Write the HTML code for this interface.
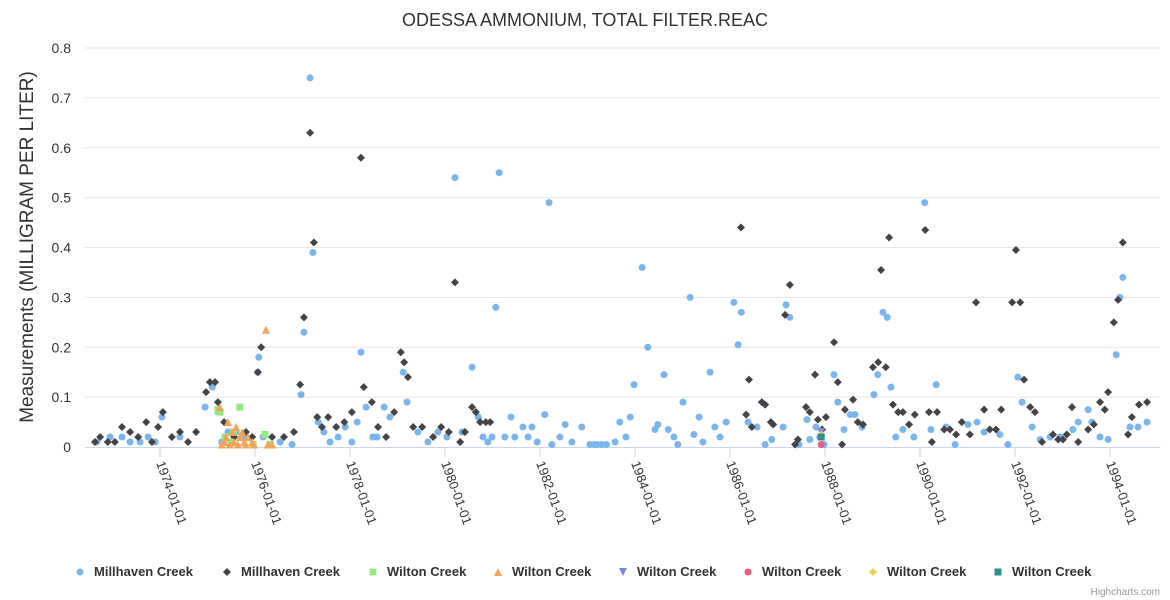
<!DOCTYPE html>
<html><head><meta charset="utf-8"><style>
body{margin:0;background:#fff;font-family:"Liberation Sans",Arial,sans-serif}
svg{display:block}
</style></head><body>
<svg id="c" width="1170" height="600" xmlns="http://www.w3.org/2000/svg"></svg>
<script>
const yTicks=[0,0.1,0.2,0.3,0.4,0.5,0.6,0.7,0.8];
const yTickLabels=["0","0.1","0.2","0.3","0.4","0.5","0.6","0.7","0.8"];
const xTicks=[1974,1976,1978,1980,1982,1984,1986,1988,1990,1992,1994];
const xTickLabels=["1974-01-01","1976-01-01","1978-01-01","1980-01-01","1982-01-01","1984-01-01","1986-01-01","1988-01-01","1990-01-01","1992-01-01","1994-01-01"];
const millBlueX=[1972.67,1972.95,1973.2,1973.37,1973.58,1973.75,1973.9,1974.04,1974.42,1974.95,1975.1,1975.22,1975.3,1975.43,1975.6,1975.79,1976.06,1976.08,1976.17,1976.32,1976.53,1976.78,1976.97,1977.03,1977.16,1977.22,1977.33,1977.45,1977.58,1977.75,1977.9,1978.04,1978.15,1978.23,1978.34,1978.48,1978.57,1978.72,1978.84,1979.12,1979.2,1979.43,1979.64,1979.85,1980.04,1980.21,1980.36,1980.57,1980.7,1980.8,1980.9,1980.99,1981.07,1981.14,1981.26,1981.39,1981.47,1981.64,1981.75,1981.83,1981.94,1982.1,1982.19,1982.25,1982.42,1982.53,1982.67,1982.88,1983.05,1983.14,1983.2,1983.3,1983.4,1983.58,1983.68,1983.81,1983.9,1983.98,1984.15,1984.27,1984.42,1984.48,1984.61,1984.7,1984.82,1984.9,1985.01,1985.16,1985.24,1985.35,1985.43,1985.58,1985.68,1985.79,1985.92,1986.08,1986.17,1986.24,1986.38,1986.57,1986.74,1986.88,1987.12,1987.18,1987.26,1987.45,1987.62,1987.68,1987.81,1987.89,1987.98,1988.19,1988.27,1988.4,1988.53,1988.63,1988.78,1989.03,1989.11,1989.22,1989.31,1989.39,1989.49,1989.64,1989.87,1990.1,1990.23,1990.34,1990.55,1990.74,1991.01,1991.2,1991.35,1991.68,1991.85,1992.06,1992.15,1992.36,1992.53,1992.74,1992.95,1993.22,1993.33,1993.54,1993.62,1993.79,1993.96,1994.13,1994.21,1994.27,1994.42,1994.59,1994.78];
const millBlueY=[0.01,0.02,0.02,0.01,0.01,0.02,0.01,0.06,0.02,0.08,0.12,0.07,0.01,0.03,0.03,0.02,0.15,0.18,0.02,0.005,0.01,0.005,0.105,0.23,0.74,0.39,0.05,0.03,0.01,0.02,0.04,0.01,0.05,0.19,0.08,0.02,0.02,0.08,0.06,0.15,0.09,0.03,0.01,0.03,0.02,0.54,0.03,0.16,0.06,0.02,0.01,0.02,0.28,0.55,0.02,0.06,0.02,0.04,0.02,0.04,0.01,0.065,0.49,0.005,0.02,0.045,0.01,0.04,0.005,0.005,0.005,0.005,0.005,0.01,0.05,0.02,0.06,0.125,0.36,0.2,0.035,0.045,0.145,0.035,0.02,0.005,0.09,0.3,0.025,0.06,0.01,0.15,0.04,0.02,0.05,0.29,0.205,0.27,0.05,0.04,0.005,0.015,0.04,0.285,0.26,0.005,0.055,0.015,0.04,0.02,0.005,0.145,0.09,0.035,0.065,0.065,0.04,0.105,0.145,0.27,0.26,0.12,0.02,0.035,0.02,0.49,0.035,0.125,0.04,0.005,0.045,0.05,0.03,0.025,0.005,0.14,0.09,0.04,0.015,0.02,0.02,0.035,0.05,0.075,0.05,0.02,0.015,0.185,0.3,0.34,0.04,0.04,0.05];
const millDarkX=[1972.63,1972.74,1972.9,1973.05,1973.2,1973.37,1973.54,1973.71,1973.83,1973.96,1974.06,1974.25,1974.42,1974.59,1974.76,1974.97,1975.05,1975.16,1975.22,1975.35,1975.56,1975.81,1975.94,1976.06,1976.13,1976.36,1976.61,1976.82,1976.95,1977.03,1977.16,1977.24,1977.31,1977.41,1977.54,1977.71,1977.88,1978.04,1978.23,1978.29,1978.46,1978.59,1978.76,1978.93,1979.07,1979.14,1979.22,1979.33,1979.52,1979.75,1979.92,1980.08,1980.21,1980.32,1980.42,1980.57,1980.65,1980.74,1980.86,1980.95,1986.23,1986.34,1986.4,1986.46,1986.67,1986.74,1986.86,1986.91,1987.16,1987.26,1987.37,1987.43,1987.6,1987.68,1987.79,1987.85,1987.94,1988.02,1988.19,1988.27,1988.36,1988.42,1988.59,1988.69,1988.8,1989.01,1989.12,1989.18,1989.28,1989.35,1989.43,1989.54,1989.64,1989.77,1989.89,1990.11,1990.19,1990.25,1990.36,1990.51,1990.63,1990.76,1990.88,1991.05,1991.18,1991.35,1991.47,1991.6,1991.71,1991.94,1992.02,1992.11,1992.19,1992.32,1992.42,1992.57,1992.8,1992.91,1993.01,1993.09,1993.2,1993.33,1993.54,1993.66,1993.79,1993.89,1993.96,1994.08,1994.17,1994.27,1994.38,1994.46,1994.61,1994.78];
const millDarkY=[0.01,0.02,0.01,0.01,0.04,0.03,0.02,0.05,0.01,0.04,0.07,0.02,0.03,0.01,0.03,0.11,0.13,0.13,0.09,0.05,0.02,0.03,0.02,0.15,0.2,0.02,0.02,0.03,0.125,0.26,0.63,0.41,0.06,0.04,0.06,0.04,0.05,0.07,0.58,0.12,0.09,0.04,0.02,0.07,0.19,0.17,0.14,0.04,0.04,0.02,0.04,0.03,0.33,0.01,0.03,0.08,0.07,0.05,0.05,0.05,0.44,0.065,0.135,0.04,0.09,0.085,0.05,0.045,0.265,0.325,0.005,0.015,0.08,0.07,0.145,0.055,0.035,0.06,0.21,0.13,0.005,0.075,0.095,0.05,0.045,0.16,0.17,0.355,0.16,0.42,0.085,0.07,0.07,0.045,0.065,0.435,0.07,0.01,0.07,0.035,0.035,0.025,0.05,0.025,0.29,0.075,0.035,0.035,0.075,0.29,0.395,0.29,0.135,0.08,0.07,0.01,0.025,0.015,0.015,0.025,0.08,0.01,0.035,0.045,0.09,0.075,0.11,0.25,0.295,0.41,0.025,0.06,0.085,0.09];
const wiltonGreenX=[1975.22,1975.26,1975.37,1975.47,1975.54,1975.68,1975.96,1976.21,1976.32];
const wiltonGreenY=[0.075,0.07,0.02,0.01,0.03,0.08,0.005,0.025,0.005];
const wiltonOrangeX=[1976.23,1975.26,1975.43,1975.3,1975.35,1975.39,1975.47,1975.52,1975.56,1975.6,1975.64,1975.68,1975.73,1975.77,1975.81,1975.85,1975.94,1975.98,1976.27,1976.36];
const wiltonOrangeY=[0.235,0.08,0.05,0.005,0.01,0.02,0.005,0.03,0.01,0.04,0.005,0.02,0.03,0.01,0.005,0.02,0.01,0.005,0.005,0.005];
const otherX=[1987.92];
const purpleY=[0.03],pinkY=[0.005],yellowY=[0.025],tealY=[0.02];

const svg=document.getElementById('c');const NS='http://www.w3.org/2000/svg';
function mk(t,a,p){const e=document.createElementNS(NS,t);for(const k in a)e.setAttribute(k,a[k]);(p||svg).appendChild(e);return e;}
const L=85,R=1160,T=48,B=447;
function xs(v){return 160+(v-1974)*47.5;}
function ys(v){return B-(v/0.8)*(B-T);}
let t=mk('text',{x:585,y:26,'text-anchor':'middle','font-size':18,fill:'#333'});t.textContent='ODESSA AMMONIUM, TOTAL FILTER.REAC';

yTicks.forEach((v,i)=>{if(v>0){const g=mk('line',{x1:L,x2:R,y1:ys(v),y2:ys(v),stroke:'#e6e6e6'});}
 const l=mk('text',{x:71,y:ys(v)+5,'text-anchor':'end','font-size':14,fill:'#333'});l.textContent=yTickLabels[i];
 });
const ax=mk('line',{x1:L,x2:R,y1:B+0.5,y2:B+0.5,stroke:'#ccd6eb'});
t=mk('text',{x:0,y:0,'text-anchor':'middle','font-size':19,fill:'#333',transform:'translate(33,247) rotate(-90)'});t.textContent='Measurements (MILLIGRAM PER LITER)';

xTicks.forEach((v,i)=>{const x=xs(v);const k=mk('line',{x1:x,x2:x,y1:B,y2:B+10,stroke:'#ccd6eb'});
 const l=mk('text',{x:0,y:0,'font-size':13,fill:'#333',transform:`translate(${x-4},${B+16}) rotate(70)`});l.textContent=xTickLabels[i];
 });
function marker(shape,x,y,c,p){let e;
 if(shape==='circle')e=mk('circle',{cx:x,cy:y,r:3.5,fill:c},p);
 else if(shape==='diamond')e=mk('path',{d:`M${x} ${y-4}L${x+4} ${y}L${x} ${y+4}L${x-4} ${y}Z`,fill:c},p);
 else if(shape==='square')e=mk('rect',{x:x-3.5,y:y-3.5,width:7,height:7,fill:c},p);
 else if(shape==='tri')e=mk('path',{d:`M${x} ${y-4}L${x+4} ${y+4}L${x-4} ${y+4}Z`,fill:c},p);
 else e=mk('path',{d:`M${x-4} ${y-4}L${x+4} ${y-4}L${x} ${y+4}Z`,fill:c},p);
 return e;}
function series(name,xa,ya,shape,c){const g=mk('g',{});
 xa.forEach((xv,i)=>{const m=marker(shape,xs(xv),ys(ya[i]),c,g);});}
series('series-millhaven-circle',millBlueX,millBlueY,'circle','#7cb5ec');
series('series-millhaven-diamond',millDarkX,millDarkY,'diamond','#434348');
series('series-wilton-square',wiltonGreenX,wiltonGreenY,'square','#90ed7d');
series('series-wilton-triangle',wiltonOrangeX,wiltonOrangeY,'tri','#f7a35c');
series('series-wilton-down',otherX,purpleY,'down','#8085e9');
series('series-wilton-circle',otherX,pinkY,'circle','#f15c80');
series('series-wilton-diamond',otherX,yellowY,'diamond','#e4d354');
series('series-wilton-teal',otherX,tealY,'square','#2b908f');
const leg=[['circle','#7cb5ec','Millhaven Creek',80],['diamond','#434348','Millhaven Creek',227],['square','#90ed7d','Wilton Creek',373],['tri','#f7a35c','Wilton Creek',498],['down','#8085e9','Wilton Creek',623],['circle','#f15c80','Wilton Creek',748],['diamond','#e4d354','Wilton Creek',873],['square','#2b908f','Wilton Creek',998]];
leg.forEach(l=>{const g=mk('g',{});
 marker(l[0],l[3],572,l[1],g);const tx=mk('text',{x:l[3]+14,y:576,'font-size':13,'font-weight':'bold',fill:'#333'},g);tx.textContent=l[2];});
t=mk('text',{x:1160,y:595,'text-anchor':'end','font-size':10,fill:'#999'});t.textContent='Highcharts.com';

</script>
</body></html>
